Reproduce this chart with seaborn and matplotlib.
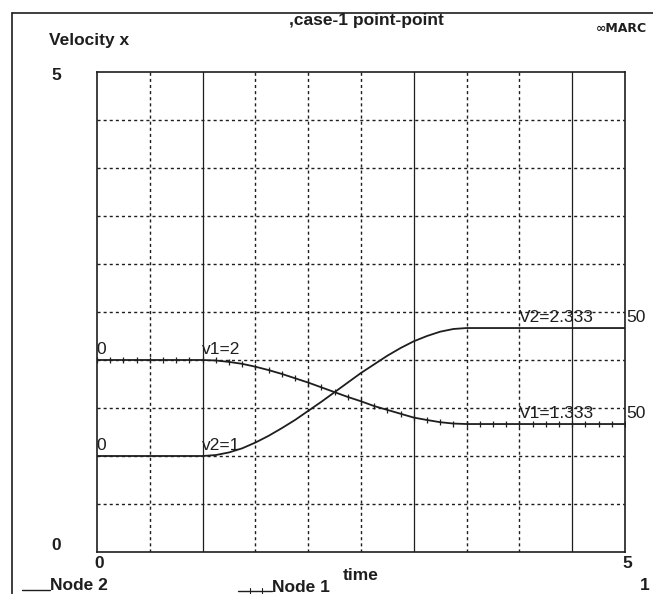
import matplotlib
matplotlib.use("Agg")
import matplotlib.pyplot as plt
import seaborn as sns
import pandas as pd
from matplotlib.lines import Line2D

sns.set_theme(style="white")
plt.rcParams["font.family"] = ["Liberation Sans", "DejaVu Sans"]

# time samples (s)
time = [0.0, 0.125, 0.25, 0.375, 0.5, 0.625, 0.75, 0.875, 1.0,
        1.125, 1.25, 1.375, 1.5, 1.625, 1.75, 1.875, 2.0,
        2.125, 2.25, 2.375, 2.5, 2.625, 2.75, 2.875, 3.0,
        3.125, 3.25, 3.375, 3.5, 3.625, 3.75, 3.875, 4.0,
        4.125, 4.25, 4.375, 4.5, 4.625, 4.75, 4.875, 5.0]

# Node 1 velocity x
node1 = [2.0, 2.0, 2.0, 2.0, 2.0, 2.0, 2.0, 2.0, 2.0,
         1.995, 1.98, 1.96, 1.93, 1.895, 1.855, 1.81, 1.765,
         1.715, 1.665, 1.615, 1.57, 1.52, 1.48, 1.44, 1.40,
         1.375, 1.352, 1.338, 1.333, 1.333, 1.333, 1.333, 1.333,
         1.333, 1.333, 1.333, 1.333, 1.333, 1.333, 1.333, 1.333]

# Node 2 velocity x
node2 = [1.0, 1.0, 1.0, 1.0, 1.0, 1.0, 1.0, 1.0, 1.0,
         1.01, 1.037, 1.08, 1.14, 1.21, 1.29, 1.375, 1.47,
         1.565, 1.665, 1.765, 1.865, 1.955, 2.045, 2.125, 2.195,
         2.25, 2.295, 2.323, 2.333, 2.333, 2.333, 2.333, 2.333,
         2.333, 2.333, 2.333, 2.333, 2.333, 2.333, 2.333, 2.333]

df = pd.DataFrame({"time": time, "Node 1": node1, "Node 2": node2})

W, H = 653, 594
fig = plt.figure(figsize=(W / 100, H / 100), dpi=100)
fig.patch.set_facecolor("white")

x0, x1, y0, y1 = 97, 625, 72, 552
ax = fig.add_axes([x0 / W, 1 - y1 / H, (x1 - x0) / W, (y1 - y0) / H])
ax.set_xlim(0, 5)
ax.set_ylim(0, 5)
ax.set_facecolor("white")

ink = "#1e1e1e"

# grid: every 0.5 in both directions
solid_x = {1.0, 3.0, 4.5}
for k in range(1, 10):
    v = k * 0.5
    if v in solid_x:
        ax.axvline(v, color=ink, lw=0.9, ls="-", zorder=1)
    else:
        ax.axvline(v, color=ink, lw=1.0, ls=(0, (2.2, 2.2)), zorder=1)
    ax.axhline(v, color=ink, lw=1.0, ls=(0, (2.2, 2.2)), zorder=1)

sns.lineplot(data=df, x="time", y="Node 2", ax=ax, color=ink, lw=1.3,
             legend=False, zorder=3)
sns.lineplot(data=df, x="time", y="Node 1", ax=ax, color=ink, lw=1.3,
             marker="|", markersize=4, markeredgewidth=0.9,
             markeredgecolor=ink, legend=False, zorder=3)

for s in ax.spines.values():
    s.set_color(ink)
    s.set_linewidth(1.2)
ax.set_xticks([])
ax.set_yticks([])
ax.set_xlabel("")
ax.set_ylabel("")

# curve annotations
lab = dict(color=ink, fontsize=12.5, zorder=4)
ax.text(-0.01, node1[0] + 0.03, "0", ha="left", va="bottom", **lab)
ax.text(-0.01, node2[0] + 0.03, "0", ha="left", va="bottom", **lab)
ax.text(0.99, node1[8] + 0.03, f"v1={node1[8]:g}", ha="left", va="bottom", **lab)
ax.text(0.99, node2[8] + 0.03, f"v2={node2[8]:g}", ha="left", va="bottom", **lab)
ax.text(4.0, node2[-1] + 0.03, f"V2={node2[-1]:.3f}", ha="left", va="bottom", **lab)
ax.text(4.0, node1[-1] + 0.03, f"V1={node1[-1]:.3f}", ha="left", va="bottom", **lab)
ax.text(5.01, node2[-1] + 0.03, "50", ha="left", va="bottom", **lab)
ax.text(5.01, node1[-1] + 0.03, "50", ha="left", va="bottom", **lab)

# figure-level text in pixel coordinates
def ftext(x, y, s, **kw):
    fig.text(x / W, 1 - y / H, s, color=ink, **kw)

bold = dict(fontsize=12.5, fontweight="bold")
ftext(366, 20, ",case-1 point-point", ha="center", va="center", **bold)
ftext(49, 40, "Velocity x", ha="left", va="center", **bold)
ftext(56, 75, "5", ha="center", va="center", **bold)
ftext(56, 545, "0", ha="center", va="center", **bold)
ftext(99, 564, "0", ha="center", va="center", **bold)
ftext(627, 564, "5", ha="center", va="center", **bold)
ftext(361, 576, "time", ha="center", va="center", **bold)
ftext(645, 585, "1", ha="center", va="center", **bold)
ftext(596, 28, "\u221eMARC", ha="left", va="center", fontsize=9, fontweight="bold",
      family=["DejaVu Sans"])

# legend entries
ftext(50, 586, "Node 2", ha="left", va="center", **bold)
ftext(272, 587, "Node 1", ha="left", va="center", **bold)
fig.add_artist(Line2D([22 / W, 50 / W], [1 - 590 / H] * 2, color=ink, lw=1.0))
fig.add_artist(Line2D([238 / W, 272 / W], [1 - 591 / H] * 2, color=ink, lw=1.0))
for tx in (250, 262):
    fig.add_artist(Line2D([tx / W] * 2, [1 - 588 / H, 1 - 594 / H], color=ink, lw=0.8))

# outer frame
fig.add_artist(Line2D([12 / W, 12 / W], [0, 1 - 13 / H], color=ink, lw=1.2))
fig.add_artist(Line2D([12 / W, 1], [1 - 13 / H] * 2, color=ink, lw=1.2))

fig.savefig("out.png", dpi=100, facecolor="white")
